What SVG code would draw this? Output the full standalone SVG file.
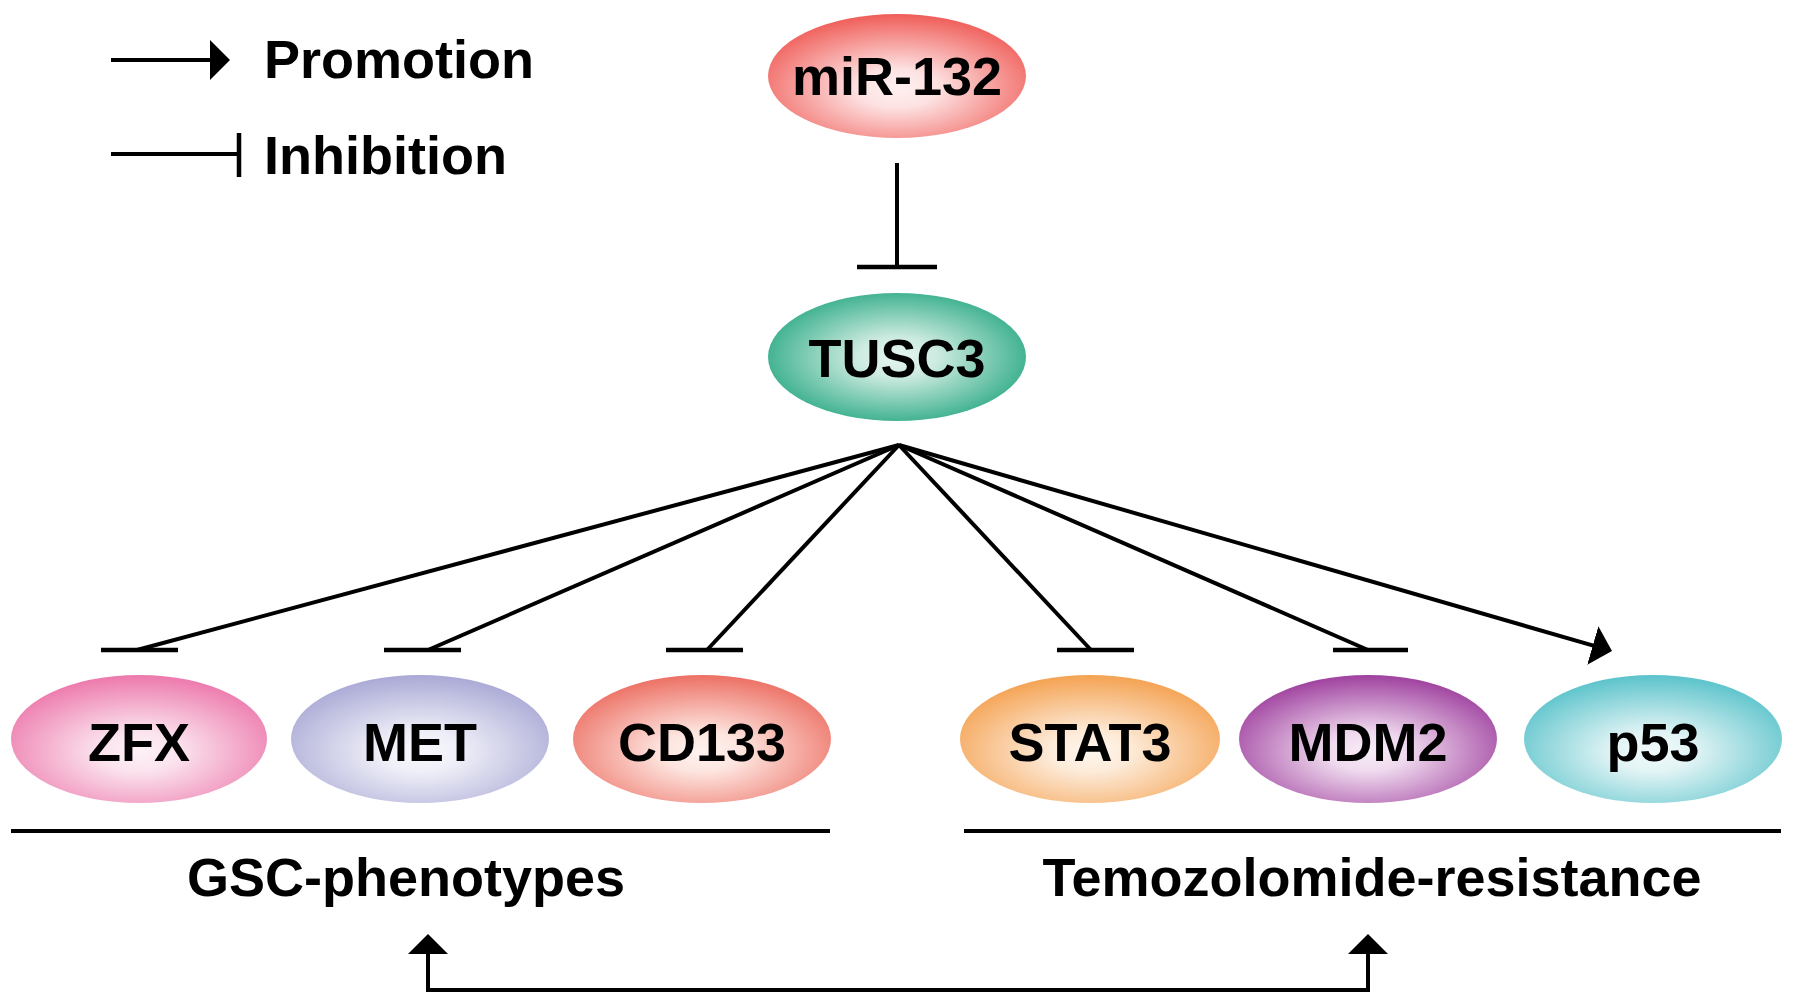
<svg xmlns="http://www.w3.org/2000/svg" width="1795" height="1004" viewBox="0 0 1795 1004">
<style>
  .lbl { font-family: "Liberation Sans", Arial, sans-serif; font-weight: bold; font-size: 54px; fill: #000; }
  .ctr { text-anchor: middle; }
  .ln { stroke: #000; stroke-width: 4; fill: none; }
  .bar { stroke: #000; stroke-width: 4.5; fill: none; }
</style>
<defs>
  <marker id="arrow" markerUnits="userSpaceOnUse" viewBox="0 0 20 40" refX="15" refY="20" markerWidth="20" markerHeight="40" orient="auto-start-reverse">
    <path d="M0,0 L20,20 L0,40 Z" fill="#000"/>
  </marker>
  <radialGradient id="gRed" cx="0.5" cy="0.6" r="0.62"><stop offset="0" stop-color="#fef0f0"/><stop offset="0.25" stop-color="#fde2e2"/><stop offset="1" stop-color="#ef5752"/></radialGradient>
  <radialGradient id="gGreen" cx="0.5" cy="0.5" r="0.62"><stop offset="0" stop-color="#e6f6f0"/><stop offset="0.25" stop-color="#cdebe0"/><stop offset="1" stop-color="#14a077"/></radialGradient>
  <radialGradient id="gPink" cx="0.5" cy="0.6" r="0.62"><stop offset="0" stop-color="#fdf1f6"/><stop offset="0.25" stop-color="#fbe3ee"/><stop offset="1" stop-color="#ec74a9"/></radialGradient>
  <radialGradient id="gLav" cx="0.5" cy="0.6" r="0.62"><stop offset="0" stop-color="#f8f8fc"/><stop offset="0.25" stop-color="#efeff8"/><stop offset="1" stop-color="#a6a6d4"/></radialGradient>
  <radialGradient id="gSalmon" cx="0.5" cy="0.6" r="0.62"><stop offset="0" stop-color="#fef3f0"/><stop offset="0.25" stop-color="#fde5df"/><stop offset="1" stop-color="#ec6b5f"/></radialGradient>
  <radialGradient id="gOrange" cx="0.5" cy="0.6" r="0.62"><stop offset="0" stop-color="#fef6ee"/><stop offset="0.25" stop-color="#fdebd9"/><stop offset="1" stop-color="#f49f4c"/></radialGradient>
  <radialGradient id="gPurple" cx="0.5" cy="0.6" r="0.62"><stop offset="0" stop-color="#f8eef8"/><stop offset="0.25" stop-color="#efd9ee"/><stop offset="1" stop-color="#9b3a9b"/></radialGradient>
  <radialGradient id="gCyan" cx="0.5" cy="0.6" r="0.62"><stop offset="0" stop-color="#f2fafb"/><stop offset="0.25" stop-color="#e2f4f5"/><stop offset="1" stop-color="#55c1c9"/></radialGradient>
</defs>
<rect width="1795" height="1004" fill="#fff"/>

<g id="legend">
  <line class="ln" x1="111" y1="60" x2="225" y2="60" marker-end="url(#arrow)"/>
  <text class="lbl" x="264" y="78">Promotion</text>
  <line class="ln" x1="111" y1="154" x2="239" y2="154"/>
  <line class="bar" x1="239" y1="133" x2="239" y2="177"/>
  <text class="lbl" x="264" y="174">Inhibition</text>
</g>

<g id="connectors">
  <line class="ln" x1="897" y1="163" x2="897" y2="267"/>
  <line class="bar" x1="857" y1="267" x2="937" y2="267"/>
  <line class="ln" x1="899" y1="445" x2="137" y2="650"/>
  <line class="bar" x1="101" y1="650" x2="178" y2="650"/>
  <line class="ln" x1="899" y1="445" x2="428" y2="650"/>
  <line class="bar" x1="384" y1="650" x2="461" y2="650"/>
  <line class="ln" x1="899" y1="445" x2="707" y2="650"/>
  <line class="bar" x1="666" y1="650" x2="743" y2="650"/>
  <line class="ln" x1="899" y1="445" x2="1091" y2="650"/>
  <line class="bar" x1="1057" y1="650" x2="1134" y2="650"/>
  <line class="ln" x1="899" y1="445" x2="1368" y2="650"/>
  <line class="bar" x1="1333" y1="650" x2="1408" y2="650"/>
  <line class="ln" x1="899" y1="445" x2="1607.2" y2="649.6" marker-end="url(#arrow)"/>
  <path class="ln" d="M428,939 L428,990 L1368,990 L1368,939" marker-start="url(#arrow)" marker-end="url(#arrow)"/>
</g>

<g id="miR-132">
  <ellipse cx="897" cy="76" rx="129" ry="62" fill="url(#gRed)"/>
  <text class="lbl ctr" x="897" y="95">miR-132</text>
</g>
<g id="TUSC3">
  <ellipse cx="897" cy="357" rx="129" ry="64" fill="url(#gGreen)"/>
  <text class="lbl ctr" x="897" y="377">TUSC3</text>
</g>
<g id="ZFX">
  <ellipse cx="139" cy="739" rx="128" ry="64" fill="url(#gPink)"/>
  <text class="lbl ctr" x="139" y="761">ZFX</text>
</g>
<g id="MET">
  <ellipse cx="420" cy="739" rx="129" ry="64" fill="url(#gLav)"/>
  <text class="lbl ctr" x="420" y="761">MET</text>
</g>
<g id="CD133">
  <ellipse cx="702" cy="739" rx="129" ry="64" fill="url(#gSalmon)"/>
  <text class="lbl ctr" x="702" y="761">CD133</text>
</g>
<g id="STAT3">
  <ellipse cx="1090" cy="739" rx="130" ry="64" fill="url(#gOrange)"/>
  <text class="lbl ctr" x="1090" y="761">STAT3</text>
</g>
<g id="MDM2">
  <ellipse cx="1368" cy="739" rx="129" ry="64" fill="url(#gPurple)"/>
  <text class="lbl ctr" x="1368" y="761">MDM2</text>
</g>
<g id="p53">
  <ellipse cx="1653" cy="739" rx="129" ry="64" fill="url(#gCyan)"/>
  <text class="lbl ctr" x="1653" y="761">p53</text>
</g>

<g id="groups">
  <line class="ln" x1="11" y1="831" x2="830" y2="831"/>
  <line class="ln" x1="964" y1="831" x2="1781" y2="831"/>
  <text class="lbl ctr" x="406" y="896">GSC-phenotypes</text>
  <text class="lbl ctr" x="1372" y="896">Temozolomide-resistance</text>
</g>
</svg>
